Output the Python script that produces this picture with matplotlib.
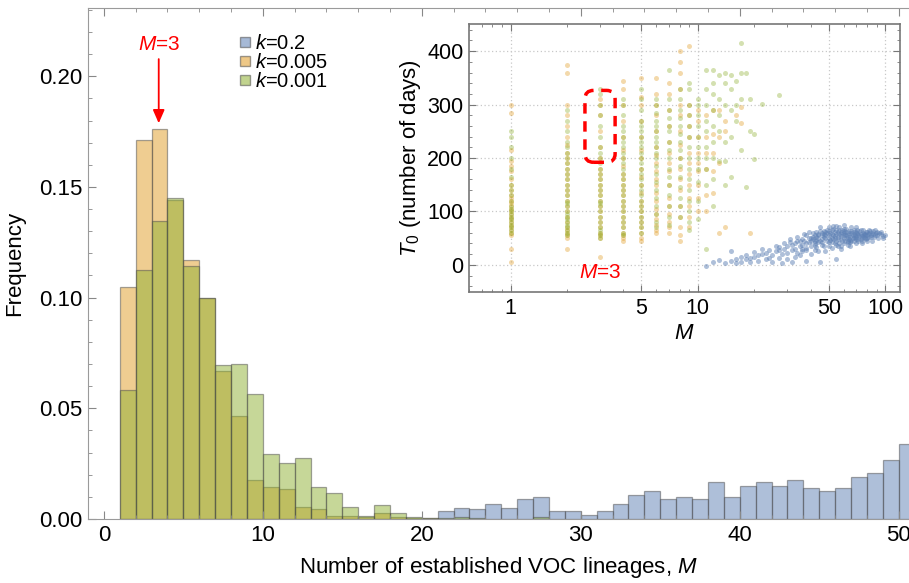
import matplotlib
matplotlib.use("Agg")
import matplotlib.pyplot as plt
import matplotlib.patches as mpatches
from matplotlib.lines import Line2D
from matplotlib.ticker import MultipleLocator, FixedLocator, NullFormatter
import numpy as np

plt.rcParams['font.family'] = ['Liberation Sans', 'DejaVu Sans']
plt.rcParams['mathtext.fontset'] = 'custom'
plt.rcParams['mathtext.rm'] = 'Liberation Sans'
plt.rcParams['mathtext.it'] = 'Liberation Sans:italic'

# --- data: histogram of M (bin = [M, M+1)) ---
M_BINS = list(range(1, 51))

FREQ_K02 = [0, 0, 0, 0, 0, 0, 0, 0, 0, 0,
            0, 0, 0, 0, 0, 0, 0, 0, 0, 0,
            0.0036, 0.0050, 0.0046, 0.0069, 0.0050, 0.0089, 0.0099, 0.0037, 0.0037, 0.0019,
            0.0037, 0.0068, 0.0107, 0.0128, 0.0089, 0.0098, 0.0089, 0.0167, 0.0098, 0.0149,
            0.0167, 0.0149, 0.0177, 0.0138, 0.0128, 0.0138, 0.0188, 0.0208, 0.0268, 0.0337]

FREQ_K005 = [0.105, 0.171, 0.176, 0.144, 0.117, 0.100, 0.067, 0.0465, 0.0175, 0.0146,
             0.0135, 0.0056, 0.0045, 0.0015, 0.0015, 0.0008, 0.0025, 0.0010, 0.0005, 0.0003,
             0, 0, 0, 0, 0, 0, 0, 0, 0, 0,
             0, 0, 0, 0, 0, 0, 0, 0, 0, 0,
             0, 0, 0, 0, 0, 0, 0, 0, 0, 0]

FREQ_K001 = [0.0582, 0.1124, 0.1344, 0.1452, 0.1145, 0.0996, 0.0695, 0.0702, 0.0564, 0.0293,
             0.0253, 0.0274, 0.0143, 0.0116, 0.0052, 0.0015, 0.0065, 0.0025, 0.0010, 0.0003,
             0.0003, 0.0008, 0.0003, 0, 0, 0, 0.0008, 0, 0, 0,
             0, 0, 0, 0, 0, 0, 0, 0, 0, 0,
             0, 0, 0, 0, 0, 0, 0, 0, 0, 0]

LABELS = ["$k$=0.2", "$k$=0.005", "$k$=0.001"]
COLORS = ["#5E81B5", "#E19C24", "#8FB032"]

# --- data: inset scatter, T0 (days) for each M ---
T0_K005 = {
    1: [5, 30, 55, 60, 65, 70, 75, 80, 85, 90, 95, 100, 105, 110, 115, 120, 125, 130,
        140, 150, 160, 175, 185, 195, 215, 285, 300],
    2: [30, 50, 55, 60, 65, 70, 80, 90, 100, 110, 120, 130, 140, 150, 160, 170, 180,
        190, 200, 210, 225, 240, 260, 280, 300, 360, 375],
    3: [15, 50, 55, 60, 70, 80, 90, 100, 110, 120, 130, 140, 150, 160, 170, 180, 200,
        220, 250, 280, 300, 310],
    4: [45, 50, 55, 60, 70, 80, 90, 100, 110, 120, 130, 140, 150, 160, 170, 185, 200,
        215, 240, 270, 300, 330, 345],
    5: [45, 50, 60, 70, 80, 90, 100, 110, 120, 135, 150, 165, 180, 200, 215, 240, 270,
        300, 315, 350],
    6: [60, 65, 75, 85, 95, 105, 120, 135, 150, 160, 175, 190, 205, 220, 250, 280, 300,
        320, 350],
    7: [60, 70, 80, 95, 110, 125, 150, 175, 190, 210, 230, 260, 290, 320, 340],
    8: [45, 55, 70, 90, 110, 140, 160, 180, 200, 225, 250, 280, 300, 330, 360, 380, 400],
    9: [70, 90, 110, 125, 150, 170, 190, 210, 240, 260, 280, 300, 410],
    10: [100, 125, 150, 175, 190, 210, 240, 270, 290],
    11: [100, 130, 180, 210, 240, 280],
    12: [135, 175, 210, 245, 290],
    13: [60, 190, 240, 290],
    14: [70, 250, 270],
    16: [280],
    17: [265, 295],
    19: [60],
}

T0_K001 = {
    1: [60, 65, 70, 75, 80, 85, 90, 95, 100, 105, 110, 120, 130, 140, 150, 165, 180,
        200, 220, 240, 250],
    2: [55, 60, 65, 70, 75, 80, 85, 90, 95, 100, 110, 115, 120, 130, 140, 150, 160,
        170, 180, 190, 200, 210, 220, 230, 250, 270, 290],
    3: [50, 55, 60, 65, 70, 80, 90, 100, 110, 115, 120, 130, 140, 150, 160, 170, 180,
        190, 200, 210, 220, 240, 260, 280, 300, 320, 330],
    4: [55, 60, 70, 80, 90, 100, 110, 120, 130, 140, 150, 160, 170, 180, 190, 200, 210,
        220, 230, 240, 250, 260, 280, 300, 310],
    5: [60, 70, 80, 90, 100, 110, 120, 130, 140, 150, 160, 170, 180, 190, 200, 210,
        220, 230, 240, 250, 260, 270, 290, 310, 330],
    6: [70, 80, 95, 110, 125, 140, 155, 170, 185, 200, 210, 220, 230, 240, 250, 260,
        270, 285, 300, 310],
    7: [75, 90, 110, 130, 150, 165, 180, 200, 215, 230, 250, 260, 275, 290, 310, 365],
    8: [90, 110, 125, 145, 165, 185, 200, 215, 230, 245, 260, 275, 290, 310, 330],
    9: [65, 80, 100, 120, 140, 160, 180, 200, 220, 240, 260, 280, 300, 330, 340],
    10: [85, 120, 155, 180, 200, 220, 240, 260, 280, 300, 310],
    11: [30, 150, 180, 200, 220, 250, 270, 300, 330, 365],
    12: [110, 160, 200, 230, 260, 290, 320, 340, 365],
    13: [195, 250, 280, 310, 355],
    14: [150, 195, 230, 300, 340, 360],
    15: [165, 240, 290, 330, 355],
    16: [270, 300, 345],
    17: [215, 310, 360, 415],
    18: [145, 360],
    19: [250, 310],
    20: [245, 198],
    22: [302],
    27: [317],
}

M_K02 = [35, 38, 40, 42, 44, 45, 46, 48, 50, 50, 52, 53, 55, 56, 57, 58, 60, 60, 62, 63,
         64, 65, 66, 68, 70, 70, 72, 74, 75, 78, 80, 82, 85, 88, 90, 95, 100, 45, 50, 55,
         60, 47, 52, 58, 42, 38, 36, 33, 32, 30, 28, 27, 25, 24, 22, 21, 20, 19, 18, 17,
         16, 15, 14, 13, 12, 11, 26, 29, 31, 34, 37, 39, 41, 43, 49, 51, 54, 59, 61, 64,
         67, 69, 71, 73, 76, 77, 79, 81, 84, 86, 92, 65, 56, 48, 40, 35, 44, 47, 53, 57,
         62, 68, 72, 58, 54, 46, 42, 39, 36, 63, 75, 95, 98, 55, 45, 28, 32, 38, 66, 78,
         41, 43, 44, 46, 47, 48, 49, 51, 52, 53, 54, 55, 56, 57, 58, 59, 60, 61, 62, 63,
         64, 65, 66, 67, 68, 69, 70, 71, 72, 73, 74, 75, 76, 77, 78, 79, 80, 82, 83, 84,
         86, 87, 89, 91, 93, 97, 62, 58, 54, 50, 46, 42, 44, 48, 52, 56, 60, 64, 68, 72,
         76, 80, 66, 70, 57, 53, 49, 45, 41, 38, 36, 34, 33, 31, 30, 29, 27, 26, 24, 23,
         22, 21, 20, 19, 18, 17, 16, 15, 23, 25, 27, 30, 33, 36, 40, 43, 46, 50, 55, 60,
         65, 70, 75, 80, 85, 42, 39, 37, 35, 32, 34, 38, 44, 52, 58, 63, 68, 74, 82, 88,
         60, 55, 50, 47, 43, 40]
T0_K02 = [45, 40, 50, 38, 55, 45, 60, 50, 42, 55, 65, 48, 58, 52, 40, 62, 50, 68, 55, 45,
          60, 52, 70, 58, 48, 62, 55, 65, 50, 58, 62, 52, 60, 55, 62, 58, 55, 70, 70, 72,
          75, 35, 32, 30, 28, 32, 25, 30, 38, 22, 20, 28, 18, 12, 20, 8, 15, 5, 18, 6,
          10, 25, 3, 9, 5, -3, 35, 40, 48, 52, 58, 62, 48, 62, 60, 46, 40, 44, 58, 48,
          56, 50, 66, 54, 60, 52, 48, 57, 52, 64, 50, 42, 35, 25, 20, 18, 42, 52, 56, 66,
          62, 66, 44, 54, 62, 48, 44, 50, 38, 38, 40, 62, 50, 10, 5, 3, 5, 8, 45, 55,
          52, 47, 58, 43, 63, 56, 45, 59, 50, 67, 54, 45, 62, 57, 48, 66, 55, 44, 68, 53,
          64, 47, 59, 51, 62, 56, 53, 60, 49, 63, 57, 54, 66, 58, 51, 61, 55, 59, 63, 56,
          58, 53, 60, 56, 59, 54, 50, 58, 50, 50, 56, 55, 50, 62, 58, 48, 60, 56, 53, 58,
          55, 50, 64, 70, 70, 72, 66, 64, 60, 55, 48, 45, 40, 42, 35, 30, 33, 25, 28, 22,
          30, 18, 24, 12, 10, 14, 3, 8, 10, 5, 12, 10, 15, 30, 35, 33, 38, 35, 38, 40,
          36, 40, 45, 45, 45, 40, 42, 45, 35, 28, 22, 28, 26, 42, 36, 42, 44, 48, 66, 66,
          63, 65, 64, 58, 52, 44]


def flatten(d):
    ms, ts = [], []
    for m, vals in d.items():
        ms += [m] * len(vals)
        ts += vals
    return ms, ts


FS = 16

# --- main histogram ---
fig = plt.figure(figsize=(9.09, 5.83), dpi=100)
ax = fig.add_axes([0.0968, 0.1098, 0.9032, 0.876])

edge = (0.3, 0.3, 0.3, 0.55)
for freq, col in zip([FREQ_K02, FREQ_K005, FREQ_K001], COLORS):
    xs = [m for m, f in zip(M_BINS, freq) if f > 0]
    hs = [f for f in freq if f > 0]
    ax.bar(xs, hs, width=1, align='edge', color=col, alpha=0.5,
           edgecolor=edge, linewidth=0.9)

ax.set_xlim(-1, 50.65)
ax.set_ylim(0, 0.2307)
ax.xaxis.set_major_locator(MultipleLocator(10))
ax.xaxis.set_minor_locator(MultipleLocator(2))
ax.yaxis.set_major_locator(FixedLocator([0, 0.05, 0.10, 0.15, 0.20]))
ax.yaxis.set_minor_locator(MultipleLocator(0.01))
ax.set_yticklabels(["0.00", "0.05", "0.10", "0.15", "0.20"])
ax.tick_params(which='both', direction='in', top=True, right=False,
               color='#888888', labelsize=FS, pad=4)
ax.tick_params(which='major', length=6)
ax.tick_params(which='minor', length=3)
for s in ['left', 'top', 'bottom']:
    ax.spines[s].set_color('#9a9a9a')
ax.spines['right'].set_visible(False)
ax.set_xlabel("Number of established VOC lineages, $M$", fontsize=FS, labelpad=7)
ax.set_ylabel("Frequency", fontsize=FS, labelpad=10)

# arrow marking M=3
ax.annotate("", xy=(3.45, 0.1775), xytext=(3.45, 0.209),
            arrowprops=dict(arrowstyle='-|>,head_length=0.8,head_width=0.35',
                            color='red', lw=1.3))
ax.text(3.45, 0.2145, "$M$=3", color='red', fontsize=15, ha='center', va='center')

handles = [Line2D([], [], marker='s', linestyle='none', markersize=7,
                  markerfacecolor=c, markeredgecolor=(0.3, 0.3, 0.3, 0.5), alpha=0.55)
           for c in COLORS]
ax.legend(handles, LABELS, loc='upper left', bbox_to_anchor=(0.172, 0.965),
          frameon=False, fontsize=14.5, handletextpad=0.1, labelspacing=0.0,
          handlelength=0.8, borderaxespad=0)

# --- inset scatter ---
ins = fig.add_axes([0.516, 0.499, 0.474, 0.460])
ins.set_xscale('log')
ins.scatter(M_K02, T0_K02, s=13, color=COLORS[0], alpha=0.5, linewidths=0)
mo, to = flatten(T0_K005)
ins.scatter(mo, to, s=13, color=COLORS[1], alpha=0.38, linewidths=0)
mg, tg = flatten(T0_K001)
ins.scatter(mg, tg, s=13, color=COLORS[2], alpha=0.38, linewidths=0)

ins.set_xlim(0.6, 120)
ins.set_ylim(-51, 451)
ins.xaxis.set_major_locator(FixedLocator([1, 5, 10, 50, 100]))
ins.xaxis.set_minor_locator(FixedLocator([0.6, 0.7, 0.8, 0.9, 2, 3, 4, 6, 7, 8, 9,
                                          20, 30, 40, 60, 70, 80, 90]))
ins.xaxis.set_minor_formatter(NullFormatter())
ins.set_xticklabels(["1", "5", "10", "50", "100"])
ins.yaxis.set_major_locator(MultipleLocator(100))
ins.yaxis.set_minor_locator(MultipleLocator(20))
ins.tick_params(which='both', direction='in', top=True, right=True,
                color='#777777', labelsize=15.5, pad=4)
ins.tick_params(which='major', length=5)
ins.tick_params(which='minor', length=2.5)
for s in ins.spines.values():
    s.set_color('#777777')
    s.set_linewidth(1.2)
ins.grid(True, which='major', linestyle=(0, (1, 2)), color='#c8c8c8', linewidth=0.9)
ins.set_axisbelow(True)
ins.set_xlabel("$M$", fontsize=FS, labelpad=3)
ins.set_ylabel("$T_0$ (number of days)", fontsize=FS, labelpad=3)

box = mpatches.FancyBboxPatch((0.269, 0.484), 0.07, 0.268,
                              boxstyle='round,pad=0,rounding_size=0.02',
                              mutation_aspect=1.6, transform=ins.transAxes,
                              fill=False, edgecolor='red', linewidth=2.5,
                              linestyle=(0, (3, 2.2)))
ins.add_patch(box)
ins.text(3.0, -14, "$M$=3", color='red', fontsize=15, ha='center', va='center')

fig.savefig("out.png", dpi=100)
